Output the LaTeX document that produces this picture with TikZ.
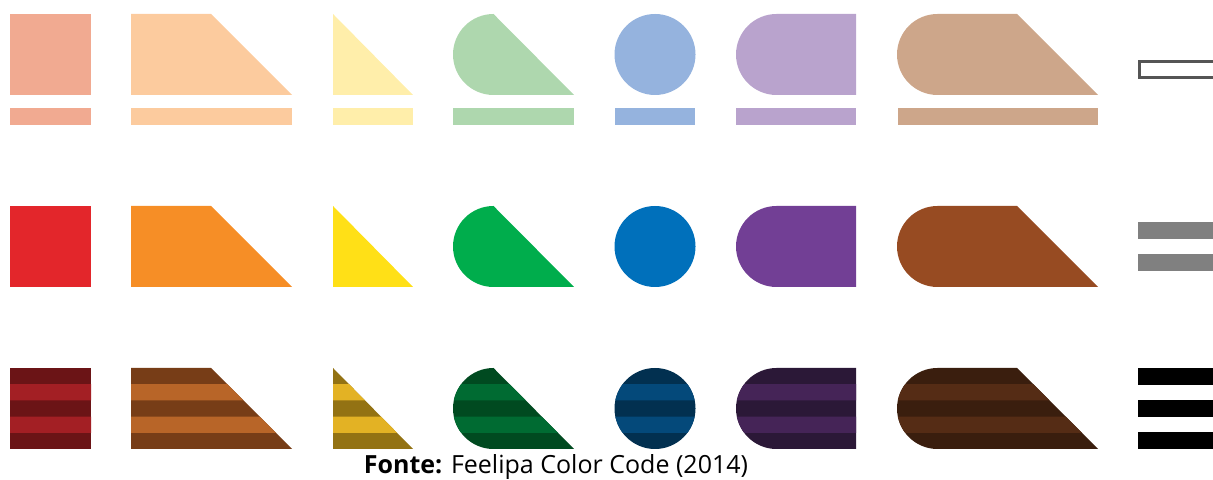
\documentclass[tikz,border=0pt]{standalone}
\usepackage{fontspec}
\setmainfont{Open Sans}
% tons claros
\definecolor{vermclr}{HTML}{F1AA91}
\definecolor{larclr}{HTML}{FCCB9E}
\definecolor{amaclr}{HTML}{FFEEAA}
\definecolor{verclr}{HTML}{AED7AE}
\definecolor{azuclr}{HTML}{95B3DE}
\definecolor{roxclr}{HTML}{B9A3CD}
\definecolor{marclr}{HTML}{CDA68A}
% tons puros
\definecolor{vermelho}{HTML}{E3262B}
\definecolor{laranja}{HTML}{F68E26}
\definecolor{amarelo}{HTML}{FFE017}
\definecolor{verde}{HTML}{00AD4C}
\definecolor{azul}{HTML}{0070BB}
\definecolor{roxo}{HTML}{723F95}
\definecolor{marrom}{HTML}{974B22}
% tons escuros (listras)
\definecolor{vermesc}{HTML}{6B1416}
\definecolor{vermlis}{HTML}{A31F24}
\definecolor{laresc}{HTML}{773D17}
\definecolor{larlis}{HTML}{B86528}
\definecolor{amaesc}{HTML}{937213}
\definecolor{amalis}{HTML}{E3B224}
\definecolor{veresc}{HTML}{004A20}
\definecolor{verlis}{HTML}{006B32}
\definecolor{azuesc}{HTML}{023050}
\definecolor{azulis}{HTML}{04497A}
\definecolor{roxesc}{HTML}{2B1837}
\definecolor{roxlis}{HTML}{452457}
\definecolor{maresc}{HTML}{3A1E0E}
\definecolor{marlis}{HTML}{552C15}
\definecolor{cinza}{HTML}{808080}
\definecolor{contorno}{HTML}{555555}
\tikzset{
  % barra de modificador: claro
  barvazia/.style={draw=contorno, line width=1.5pt, fill=white},
  % barra de modificador: escuro
  barcinza/.style={fill=cinza},
  barpreta/.style={fill=black},
  % fonte da figura
  legenda/.style={font=\fontsize{12.5}{15}\selectfont, anchor=base},
}
% formas do codigo (canto inferior esquerdo em #1,#2)
\newcommand{\fquad}[2]{(#1,#2) rectangle ++(81,81)}
\newcommand{\ftrap}[2]{(#1,#2) -- ++(161,0) -- ++(-81,81) -- ++(-80,0) -- cycle}
\newcommand{\ftri}[2]{(#1,#2) -- ++(80,0) -- ++(-80,81) -- cycle}
\newcommand{\fgota}[2]{(#1+40.5,#2) -- ++(80.5,0) -- ++(-80.5,81)
  arc[start angle=90, end angle=270, radius=40.5] -- cycle}
\newcommand{\fcirc}[2]{(#1+40,#2+40.5) circle[radius=40.5]}
\newcommand{\fpilula}[2]{(#1+40.5,#2) -- ++(79.5,0) -- ++(0,81) -- ++(-79.5,0)
  arc[start angle=90, end angle=270, radius=40.5] -- cycle}
\newcommand{\fgrande}[2]{(#1+40.5,#2) -- ++(160.5,0) -- ++(-81,81) -- ++(-79.5,0)
  arc[start angle=90, end angle=270, radius=40.5] -- cycle}
% forma listrada: forma, cor escura, cor da listra
\newcommand{\listrado}[3]{%
  \fill[#2] #1;
  \begin{scope}
    \clip #1;
    \fill[#3] (0,47.2) rectangle (1213,63.4) (0,79.6) rectangle (1213,95.8);
  \end{scope}}

\begin{document}
\begin{tikzpicture}[x=0.5pt, y=0.5pt]
  \clip (0,0) rectangle (1213,480);
  \fill[vermclr] \fquad{10}{385};
  \fill[larclr] \ftrap{131}{385};
  \fill[amaclr] \ftri{333}{385};
  \fill[verclr] \fgota{453}{385};
  \fill[azuclr] \fcirc{615}{385};
  \fill[roxclr] \fpilula{736}{385};
  \fill[marclr] \fgrande{897}{385};
  \fill[vermclr] (10,355) rectangle (91,372);
  \fill[larclr] (131,355) rectangle (292,372);
  \fill[amaclr] (333,355) rectangle (413,372);
  \fill[verclr] (453,355) rectangle (574,372);
  \fill[azuclr] (615,355) rectangle (695,372);
  \fill[roxclr] (736,355) rectangle (856,372);
  \fill[marclr] (898,355) rectangle (1098,372);
  \draw[barvazia] (1139,402.5) rectangle (1225,418.5);

  \fill[vermelho] \fquad{10}{193};
  \fill[laranja] \ftrap{131}{193};
  \fill[amarelo] \ftri{333}{193};
  \fill[verde] \fgota{453}{193};
  \fill[azul] \fcirc{615}{193};
  \fill[roxo] \fpilula{736}{193};
  \fill[marrom] \fgrande{897}{193};
  \fill[barcinza] (1138,241) rectangle (1213,258);
  \fill[barcinza] (1138,209) rectangle (1213,226);

  \listrado{\fquad{10}{31}}{vermesc}{vermlis}
  \listrado{\ftrap{131}{31}}{laresc}{larlis}
  \listrado{\ftri{333}{31}}{amaesc}{amalis}
  \listrado{\fgota{453}{31}}{veresc}{verlis}
  \listrado{\fcirc{615}{31}}{azuesc}{azulis}
  \listrado{\fpilula{736}{31}}{roxesc}{roxlis}
  \listrado{\fgrande{897}{31}}{maresc}{marlis}
  \fill[barpreta] (1138,95) rectangle (1213,112);
  \fill[barpreta] (1138,63) rectangle (1213,80);
  \fill[barpreta] (1138,31) rectangle (1213,48);

  \node[legenda] (fonte) at (556,6) {\textbf{Fonte:} Feelipa Color Code (2014)};
\end{tikzpicture}
\end{document}
